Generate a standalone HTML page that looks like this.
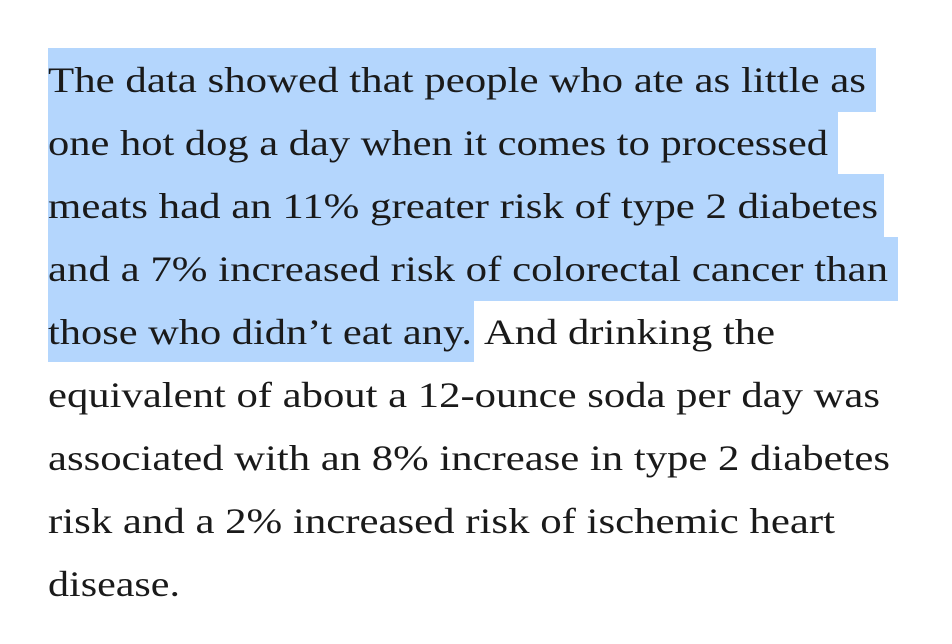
<!DOCTYPE html>
<html><head><meta charset="utf-8"><style>
html,body{margin:0;padding:0;background:#fff;width:952px;height:644px;overflow:hidden}
text{font-family:"Liberation Serif","DejaVu Serif",serif;font-size:36px;fill:#1a1a1a}
</style></head><body>
<svg width="952" height="644">
<g fill="#b4d6fd">
<rect x="48" y="48" width="828" height="64"/>
<rect x="48" y="111" width="790" height="64"/>
<rect x="48" y="174" width="836" height="64"/>
<rect x="48" y="237" width="850" height="64"/>
<rect x="48" y="300" width="426" height="62"/>
</g>
<g>
<text x="48" y="92" textLength="818" lengthAdjust="spacingAndGlyphs">The data showed that people who ate as little as</text>
<text x="48" y="155" textLength="780" lengthAdjust="spacingAndGlyphs">one hot dog a day when it comes to processed</text>
<text x="48" y="218" textLength="830" lengthAdjust="spacingAndGlyphs">meats had an 11% greater risk of type 2 diabetes</text>
<text x="48" y="281" textLength="840" lengthAdjust="spacingAndGlyphs">and a 7% increased risk of colorectal cancer than</text>
<text x="48" y="344" textLength="424" lengthAdjust="spacingAndGlyphs">those who didn’t eat any.</text>
<text x="484" y="344" textLength="291" lengthAdjust="spacingAndGlyphs">And drinking the</text>
<text x="48" y="407" textLength="832" lengthAdjust="spacingAndGlyphs">equivalent of about a 12-ounce soda per day was</text>
<text x="48" y="470" textLength="842" lengthAdjust="spacingAndGlyphs">associated with an 8% increase in type 2 diabetes</text>
<text x="48" y="533" textLength="787" lengthAdjust="spacingAndGlyphs">risk and a 2% increased risk of ischemic heart</text>
<text x="48" y="596" textLength="132" lengthAdjust="spacingAndGlyphs">disease.</text>
</g>
</svg>
</body></html>
